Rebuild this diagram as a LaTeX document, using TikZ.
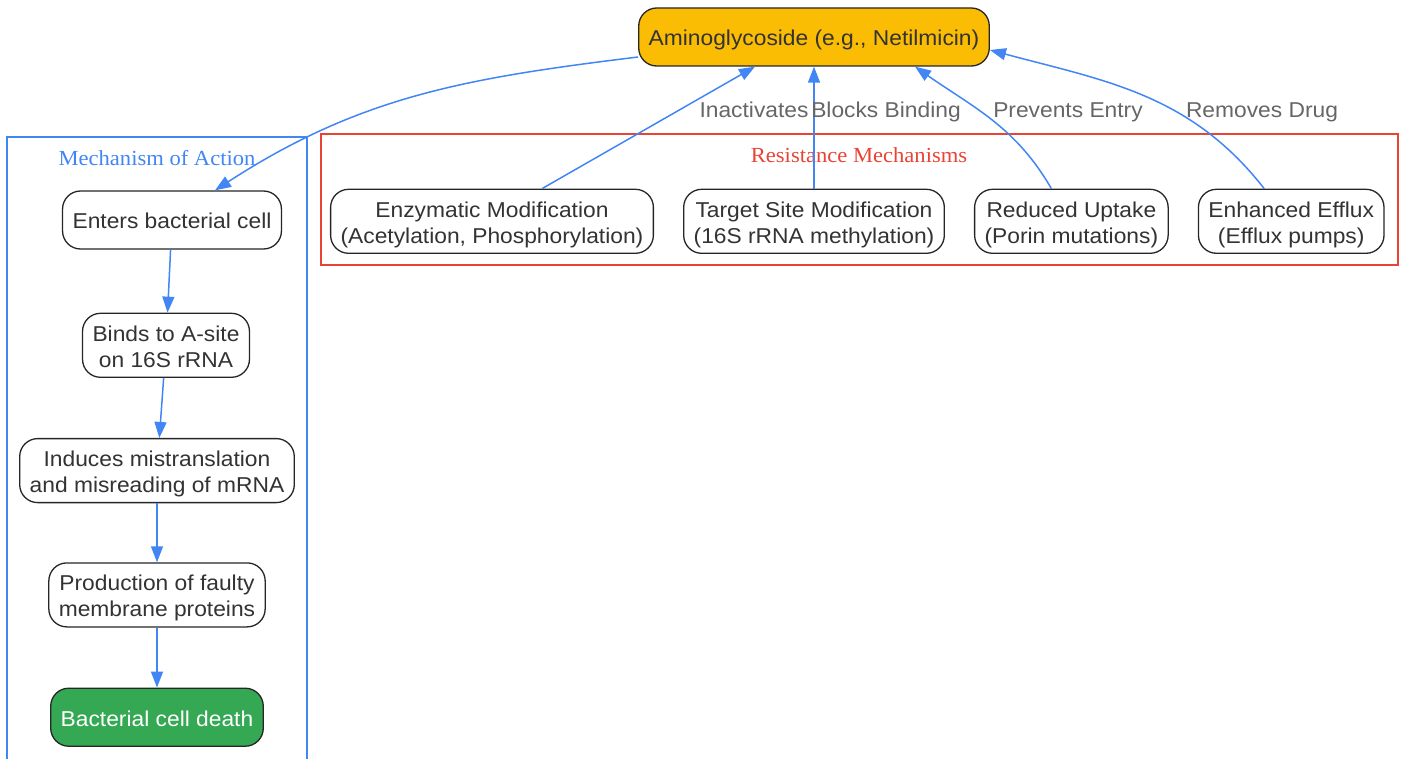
\documentclass[tikz,border=0pt]{standalone}
\usepackage{fontspec}
\setmainfont{Liberation Sans}[FakeStretch=1.06]
\newfontfamily\clusterfont{Liberation Serif}[FakeStretch=1.05]
\usetikzlibrary{positioning, arrows.meta}
\definecolor{flowblue}{HTML}{4285F4}
\definecolor{drugamber}{HTML}{FBBC04}
\definecolor{deathgreen}{HTML}{34A853}
\definecolor{resred}{HTML}{EA4335}
\definecolor{labelgray}{HTML}{666666}
\definecolor{textdark}{HTML}{333333}

\begin{document}
\begin{tikzpicture}[x=1pt,y=1pt,node distance=30pt]
    \tikzstyle{stepbox} = [rectangle,rounded corners=18pt,draw=black!85,line width=1.3pt,fill=white,text=textdark,align=center,minimum height=58pt,inner xsep=10pt,inner ysep=10pt,text height=18pt,text depth=0pt,font=\fontsize{21.5pt}{26pt}\selectfont]
    \tikzstyle{twoline} = [text height=44pt]
    \tikzstyle{flow} = [draw=flowblue,line width=1.5pt,-{Triangle[length=16pt,width=12pt]}]
    \tikzstyle{edgelabel} = [anchor=base,text=labelgray,font=\fontsize{21.5pt}{26pt}\selectfont]
    \tikzstyle{clustertitle} = [anchor=base,font=\clusterfont\fontsize{21.5pt}{26pt}\selectfont]

    \useasboundingbox (0,0) rectangle (1405,-759);

    % clusters
    \draw [flowblue,line width=1.3pt] (7,-759) |- (307,-137) -- (307,-759);
    \node (moa) [clustertitle,text=flowblue] at (157,-166) {Mechanism of Action};
    \draw [resred,line width=1.3pt] (321,-134) rectangle (1398,-265);
    \node (res) [clustertitle,text=resred] at (859,-163) {Resistance Mechanisms};

    \node (amino) [stepbox,fill=drugamber] at (814,-37) {Aminoglycoside (e.g., Netilmicin)};

    % mechanism of action
    \node (enters) [stepbox] at (172,-220) {Enters bacterial cell};
    \node (binds) [stepbox, twoline, below=63pt of enters, xshift=-6pt] {Binds to A-site\\on 16S rRNA};
    \node (induces) [stepbox, twoline, below=60pt of binds, xshift=-9pt] {Induces mistranslation\\and misreading of mRNA};
    \node (faulty) [stepbox, twoline, below=59pt of induces] {Production of faulty\\membrane proteins};
    \node (death) [stepbox, below=60pt of faulty, fill=deathgreen, text=white] {Bacterial cell death};

    % resistance
    \node (target) [stepbox, twoline, below=122pt of amino] {Target Site Modification\\(16S rRNA methylation)};
    \node (enzymatic) [stepbox, twoline, left=29pt of target] {Enzymatic Modification\\(Acetylation, Phosphorylation)};
    \node (reduced) [stepbox, twoline, right=29pt of target] {Reduced Uptake\\(Porin mutations)};
    \node (efflux) [stepbox, twoline, right=29pt of reduced] {Enhanced Efflux\\(Efflux pumps)};

    \draw [flow] ([yshift=-20pt]amino.west) to[out=187,in=33] ([xshift=43pt]enters.north);
    \draw [flow] (enters) -- (binds);
    \draw [flow] (binds) -- (induces);
    \draw [flow] (induces) -- (faulty);
    \draw [flow] (faulty) -- (death);

    \draw [flow] ([xshift=50pt]enzymatic.north) -- ([xshift=-59pt]amino.south);
    \draw [flow] (target.north) -- (amino.south);
    \draw [flow] ([xshift=-20pt]reduced.north) to[out=120,in=-35] ([xshift=101pt]amino.south);
    \draw [flow] ([xshift=-27pt]efflux.north) to[out=128,in=-15] ([yshift=-13pt]amino.east);

    \node (inact) [edgelabel] at (754,-118) {Inactivates};
    \node (blocks) [edgelabel] at (886,-118) {Blocks Binding};
    \node (prevents) [edgelabel] at (1068,-118) {Prevents Entry};
    \node (removes) [edgelabel] at (1262,-118) {Removes Drug};

\end{tikzpicture}
\end{document}
